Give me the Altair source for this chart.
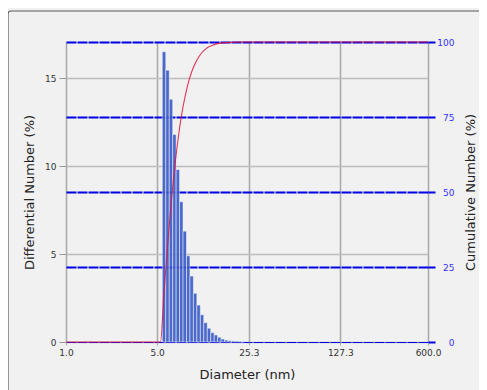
import altair as alt
import pandas as pd

# channel edges (nm)
edges = [5.48, 5.83, 6.20, 6.59, 7.00, 7.44, 7.91, 8.41, 8.94, 9.50, 10.10, 10.74,
         11.41, 12.14, 12.90, 13.71, 14.58, 15.50, 16.47, 17.51, 18.61, 19.79,
         21.03, 22.36, 23.77]
# differential number (%) per channel
diff = [16.5, 15.45, 13.8, 11.8, 9.8, 7.97, 6.3, 4.9, 3.75, 2.77, 2.1, 1.55,
        1.1, 0.78, 0.53, 0.4, 0.27, 0.17, 0.11, 0.08, 0.06, 0.05, 0.04, 0.03]
# cumulative number curve (%)
cum_d = [1.0, 5.31, 5.65, 6.01, 6.39, 6.79, 7.22, 7.67, 8.16, 8.67, 9.21, 9.80,
         10.41, 11.07, 11.77, 12.51, 13.30, 14.14, 15.03, 15.97, 16.98, 18.05,
         19.19, 20.40, 21.68, 23.05, 600.0]
cum_v = [0, 0, 16.4, 31.8, 45.6, 57.4, 67.1, 75.1, 81.4, 86.3, 90.0, 92.8, 94.9,
         96.5, 97.6, 98.4, 98.9, 99.3, 99.55, 99.7, 99.8, 99.87, 99.92, 99.96,
         99.99, 100, 100]

x_ticks = [1.0, 5.0, 25.3, 127.3, 600.0]
left_ticks = [0, 5, 10, 15]
right_ticks = [0, 25, 50, 75, 100]

bars_df = pd.DataFrame({"lo": edges[:-1], "hi": edges[1:], "diff": diff})
cum_df = pd.DataFrame({"d": cum_d, "cum": cum_v})

FONT = "DejaVu Sans"
xscale = alt.Scale(type="log", domain=[1, 600], nice=False)
xaxis = alt.Axis(values=x_ticks, format=".1f", title="Diameter (nm)",
                 grid=True, gridColor="#a9a9a9", gridWidth=1.5,
                 tickColor="#a9a9a9", tickSize=3, labelPadding=3, domain=False,
                 labelFont=FONT, labelFontSize=9, labelColor="#333333",
                 titleFont=FONT, titleFontSize=13, titleFontWeight="normal",
                 titleColor="#222222", titleX=181, titleY=36,
                 titleBaseline="alphabetic", titleAlign="center",
                 labelFlush=False, labelOverlap=False)

bars = alt.Chart(bars_df).mark_rect(
    color="#3a5bc6", opacity=0.9, stroke="#ffffff", strokeWidth=0.5
).encode(
    x=alt.X("lo:Q", scale=xscale, axis=xaxis),
    x2="hi:Q",
    y=alt.Y("diff:Q", scale=alt.Scale(domain=[0, 17.05], nice=False),
            axis=alt.Axis(values=left_ticks, title="Differential Number (%)",
                          grid=True, gridColor="#bdbdbd", gridWidth=1.5,
                          tickColor="#9a9a9a", tickSize=7, labelPadding=3,
                          domain=False, labelFont=FONT, labelFontSize=9,
                          labelColor="#333333", titleFont=FONT,
                          titleFontSize=13, titleFontWeight="normal",
                          titleColor="#222222", titleAngle=270,
                          titleX=-37, titleY=150, titleBaseline="middle",
                          titleAlign="center")),
    y2=alt.datum(0),
)

line = alt.Chart(cum_df).mark_line(
    color="#e0143c", strokeWidth=1.1, interpolate="monotone", opacity=0.85
).encode(
    x=alt.X("d:Q", scale=xscale),
    y=alt.Y("cum:Q", scale=alt.Scale(domain=[0, 100], nice=False),
            axis=alt.Axis(orient="right", values=right_ticks,
                          title="Cumulative Number (%)", grid=True,
                          gridColor="#0000e6",
                          gridWidth={"condition": {"test": "datum.value === 0", "value": 1}, "value": 2},
                          gridDash=[10, 1], tickColor="#0000e6", tickWidth=2,
                          tickDash=[10, 1], tickSize=7, domain=False,
                          labelAlign="right", labelPadding=19,
                          labelFont=FONT, labelFontSize=9, labelColor="#3333ff",
                          titleFont=FONT, titleFontSize=13,
                          titleFontWeight="normal", titleColor="#222222",
                          titleAngle=270, titleX=42, titleY=150,
                          titleBaseline="middle", titleAlign="center")),
)

frame = alt.Chart(pd.DataFrame({"a": [0]})).mark_rect(
    fill="transparent", stroke="#5a5a5a", strokeWidth=1.2, cornerRadius=3
).encode(x=alt.value(-58), x2=alt.value(419), y=alt.value(-31), y2=alt.value(400))

chart = alt.layer(bars, line, frame).resolve_scale(y="independent").properties(
    width=362, height=300,
    autosize=alt.AutoSizeParams(type="none"),
    padding={"left": 58, "top": 34, "right": 51, "bottom": 48},
    background="#f1f1f1",
).configure_view(stroke=None)

chart.save("out.html", embed_options={"renderer": "svg", "actions": False})
